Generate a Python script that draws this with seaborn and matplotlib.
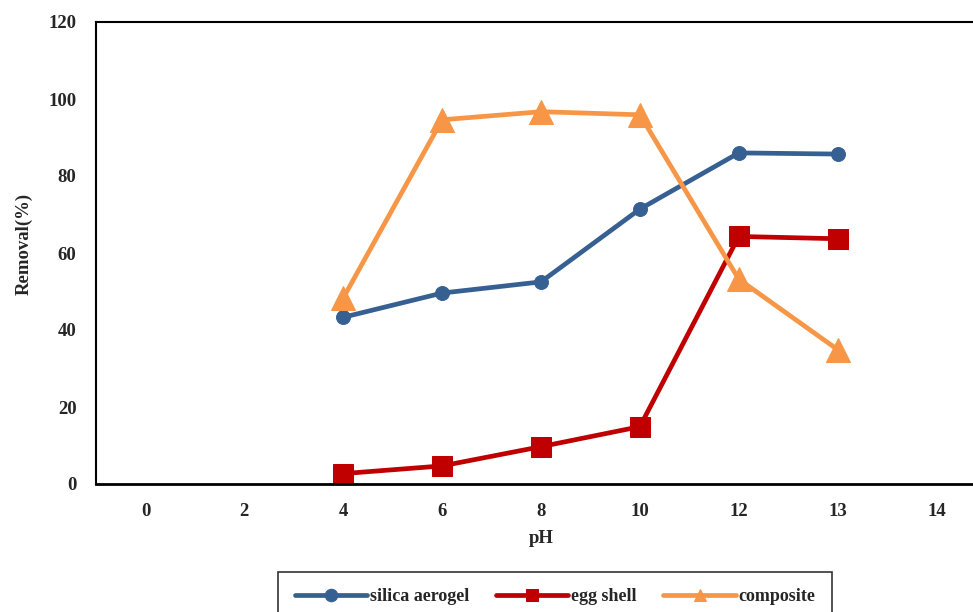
import pandas as pd
import matplotlib.pyplot as plt
import seaborn as sns

# pH categories on the axis (evenly spaced, as in the original)
ph_ticks = ["0", "2", "4", "6", "8", "10", "12", "13", "14"]
ph_measured = ["4", "6", "8", "10", "12", "13"]

silica_aerogel = [43.3, 49.6, 52.5, 71.4, 86.0, 85.7]
egg_shell = [2.7, 4.7, 9.7, 14.9, 64.3, 63.7]
composite = [48.3, 94.6, 96.7, 95.9, 53.2, 34.9]

series_names = ["silica aerogel", "egg shell", "composite"]
colors = ["#376092", "#C00000", "#F79646"]
markers = ["o", "s", "^"]
marker_sizes = [10, 15, 17]

sns.set_style("white")
plt.rcParams["font.family"] = ["Liberation Serif", "DejaVu Serif"]
plt.rcParams["font.weight"] = "bold"

rows = []
for name, vals in zip(series_names, [silica_aerogel, egg_shell, composite]):
    for ph, v in zip(ph_measured, vals):
        rows.append([name, ph_ticks.index(ph), v])
df = pd.DataFrame(rows, columns=["series", "pos", "Removal"])

fig = plt.figure(figsize=(9.73, 6.12), dpi=100)
ax = fig.add_axes([96 / 973, 1 - 484 / 612, (986 - 96) / 973, (484 - 22) / 612])

for name, c, m, ms in zip(series_names, colors, markers, marker_sizes):
    sub = df[df["series"] == name]
    sns.lineplot(data=sub, x="pos", y="Removal", color=c, marker=m, markersize=ms,
                 markeredgecolor=c, linewidth=3.4, label=name, ax=ax)

ax.set_xlim(-0.5, len(ph_ticks) - 0.5)
ax.set_ylim(0, 120)
ax.set_xticks(range(len(ph_ticks)))
ax.set_xticklabels(ph_ticks, fontsize=13.5, fontweight="bold")
ax.set_yticks(range(0, 121, 20))
ax.set_yticklabels([str(t) for t in range(0, 121, 20)], fontsize=13.5, fontweight="bold")
ax.tick_params(axis="x", length=0, pad=14)
ax.tick_params(axis="y", length=0, pad=14)
ax.set_xlabel("pH", fontsize=13.5, fontweight="bold", labelpad=7)
ax.set_ylabel("Removal(%)", fontsize=13.5, fontweight="bold")
ax.yaxis.set_label_coords(-0.071, 0.52)
for s in ax.spines.values():
    s.set_color("black")
    s.set_linewidth(1.5)
ax.spines["bottom"].set_linewidth(2)

leg = ax.legend(loc="upper center", bbox_to_anchor=(555 / 973, 1 - 572 / 612),
                bbox_transform=fig.transFigure, ncol=3, frameon=True, fancybox=False,
                prop={"size": 13, "weight": "bold"}, handlelength=4.0,
                columnspacing=1.5, handletextpad=0.15, borderpad=0.9,
                borderaxespad=0)
leg.get_frame().set_edgecolor("black")
leg.get_frame().set_linewidth(1.2)
for h in leg.legend_handles:
    h.set_markersize(9)

plt.savefig("out.png", dpi=100)
